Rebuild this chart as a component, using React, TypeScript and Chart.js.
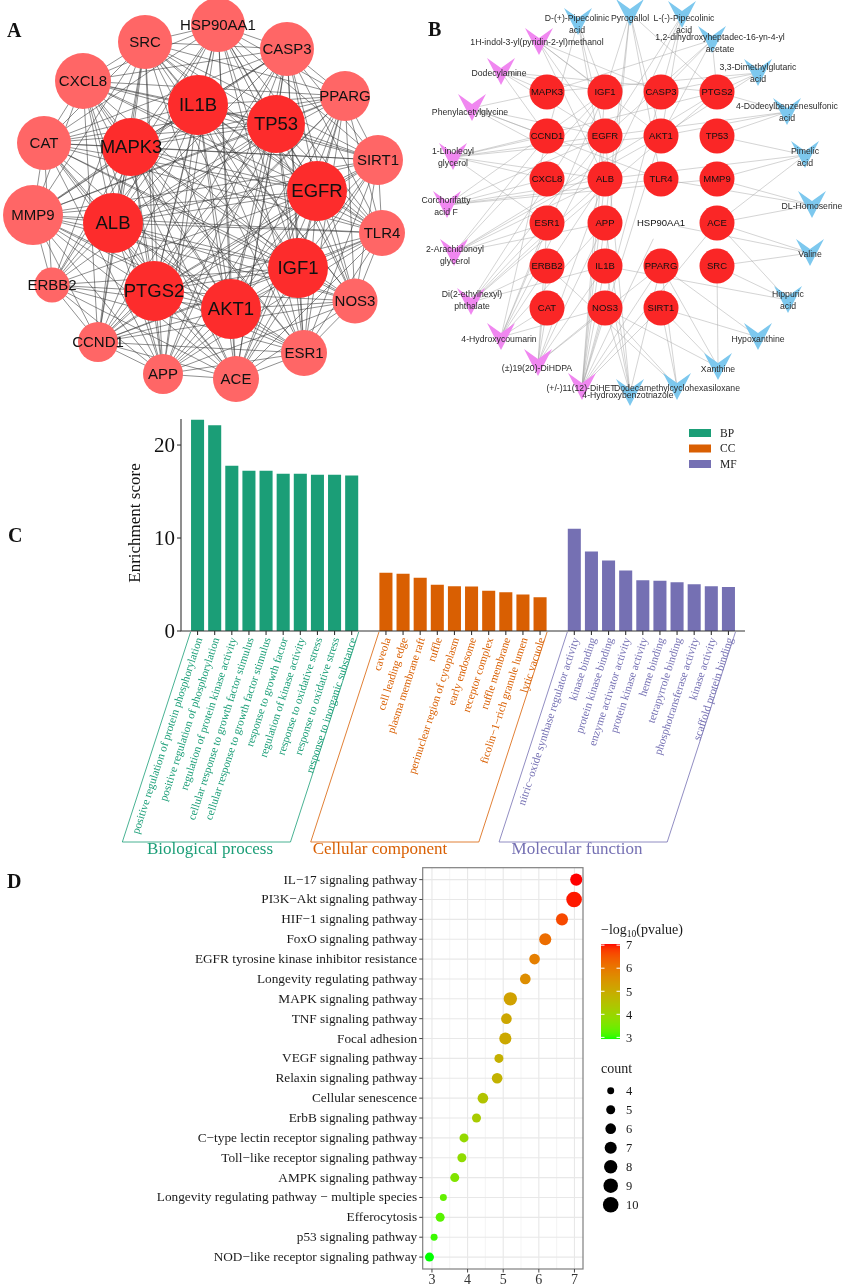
import React, { useEffect, useRef } from 'react';
import { Chart, registerables } from 'chart.js';

Chart.register(...registerables);

const SERIF = '"Liberation Serif", "Times New Roman", Times, serif';
const SANS = '"Liberation Sans", Arial, Helvetica, sans-serif';

/* ================= Panel A : PPI network ================= */
const A_GENES = ['SRC', 'HSP90AA1', 'CASP3', 'CXCL8', 'PPARG', 'IL1B', 'TP53', 'CAT', 'MAPK3', 'SIRT1', 'EGFR', 'MMP9', 'ALB', 'TLR4', 'IGF1', 'ERBB2', 'PTGS2', 'AKT1', 'NOS3', 'CCND1', 'APP', 'ACE', 'ESR1'];
const A_POS_X = [145, 218, 287, 83, 345, 198, 276, 44, 131, 378, 317, 33, 113, 382, 298, 52, 154, 231, 355, 98, 163, 236, 304];
const A_POS_Y = [42, 25, 49, 81, 96, 105, 124, 143, 147, 160, 191, 215, 223, 233, 268, 285, 291, 309, 301, 342, 374, 379, 353];
const A_RADIUS = [27, 27, 27, 28, 25, 30, 29, 27, 29, 25, 30, 30, 30, 23, 30, 17.5, 30, 30, 22.5, 20, 20, 23, 23];
const A_HUBS = ['IL1B', 'TP53', 'MAPK3', 'EGFR', 'ALB', 'IGF1', 'PTGS2', 'AKT1'];
const A_OUTER_LINKS: [string, string[]][] = [
  ['SRC', ['HSP90AA1', 'CASP3', 'CXCL8', 'CAT', 'MMP9', 'ERBB2', 'CCND1', 'ESR1', 'PPARG', 'SIRT1', 'TLR4', 'NOS3', 'APP']],
  ['HSP90AA1', ['CASP3', 'PPARG', 'CXCL8', 'CAT', 'ESR1', 'ERBB2', 'SIRT1', 'NOS3', 'APP', 'ACE', 'TLR4']],
  ['CASP3', ['PPARG', 'SIRT1', 'CXCL8', 'CAT', 'MMP9', 'CCND1', 'APP', 'ACE', 'ESR1', 'TLR4', 'NOS3']],
  ['CXCL8', ['CAT', 'MMP9', 'PPARG', 'TLR4', 'CCND1', 'APP', 'ACE', 'ESR1', 'SIRT1']],
  ['PPARG', ['SIRT1', 'TLR4', 'CAT', 'MMP9', 'ESR1', 'NOS3', 'ACE', 'APP', 'CCND1']],
  ['CAT', ['MMP9', 'ERBB2', 'SIRT1', 'NOS3', 'TLR4', 'APP', 'ACE']],
  ['SIRT1', ['TLR4', 'NOS3', 'MMP9', 'ESR1', 'ACE', 'CCND1']],
  ['MMP9', ['ERBB2', 'CCND1', 'APP', 'TLR4', 'ACE', 'ESR1', 'NOS3']],
  ['TLR4', ['NOS3', 'ESR1', 'ACE', 'APP', 'CCND1']],
  ['ERBB2', ['CCND1', 'APP', 'ESR1', 'ACE']],
  ['NOS3', ['ESR1', 'ACE', 'APP', 'CCND1']],
  ['CCND1', ['APP', 'ACE', 'ESR1']],
  ['APP', ['ACE', 'ESR1']],
  ['ACE', ['ESR1']],
];

/* ================= Panel B : compound-target network ================= */
const B_TARGETS = ['MAPK3', 'IGF1', 'CASP3', 'PTGS2', 'CCND1', 'EGFR', 'AKT1', 'TP53', 'CXCL8', 'ALB', 'TLR4', 'MMP9', 'ESR1', 'APP', 'HSP90AA1', 'ACE', 'ERBB2', 'IL1B', 'PPARG', 'SRC', 'CAT', 'NOS3', 'SIRT1'];
const B_TX = [547, 605, 661, 717, 547, 605, 661, 717, 547, 605, 661, 717, 547, 605, 661, 717, 547, 605, 661, 717, 547, 605, 661];
const B_TY = [92, 92, 92, 92, 136, 136, 136, 136, 179, 179, 179, 179, 223, 223, 223, 223, 266, 266, 266, 266, 308, 308, 308];

const B_PINK = ['1H-indol-3-yl(pyridin-2-yl)methanol', 'Dodecylamine', 'Phenylacetylglycine', '1-Linoleoyl\nglycerol', 'Corchorifatty\nacid F', '2-Arachidonoyl\nglycerol', 'Di(2-ethylhexyl)\nphthalate', '4-Hydroxycoumarin', '(±)19(20)-DiHDPA', '(+/-)11(12)-DiHET'];
const B_PINK_X = [539, 501, 472, 453, 447, 454, 471, 501, 538, 582];
const B_PINK_Y = [42, 72, 108, 157, 205, 253, 302, 337, 363, 387];
const B_PINK_LX = [537, 499, 470, 453, 446, 455, 472, 499, 537, 581];
const B_PINK_LY = [43, 74, 113, 158, 206.5, 255.5, 301, 340, 369, 389];
const B_PINK_LINKS = [
  ['IGF1', 'EGFR', 'ALB', 'AKT1', 'CASP3'],
  ['MAPK3', 'IGF1', 'PTGS2', 'CCND1', 'EGFR'],
  ['MAPK3', 'CCND1', 'ALB', 'EGFR', 'TLR4'],
  ['CCND1', 'EGFR', 'AKT1', 'PTGS2', 'CXCL8', 'ALB', 'ESR1'],
  ['CXCL8', 'ALB', 'TLR4', 'MMP9', 'EGFR', 'IGF1'],
  ['ESR1', 'ALB', 'IGF1', 'AKT1', 'PTGS2', 'APP', 'CCND1'],
  ['ERBB2', 'IL1B', 'ESR1', 'ALB', 'EGFR', 'IGF1', 'PTGS2'],
  ['CAT', 'NOS3', 'ESR1', 'APP', 'ALB', 'IGF1', 'EGFR', 'CCND1'],
  ['CAT', 'ERBB2', 'ESR1', 'NOS3', 'IL1B', 'PPARG', 'APP', 'ALB'],
  ['NOS3', 'IL1B', 'APP', 'ALB', 'EGFR', 'IGF1', 'AKT1', 'PPARG', 'SIRT1', 'ACE', 'HSP90AA1', 'CASP3'],
];

const B_BLUE = ['D-(+)-Pipecolinic\nacid', 'Pyrogallol', 'L-(-)-Pipecolinic\nacid', '1,2-dihydroxyheptadec-16-yn-4-yl\nacetate', '3,3-Dimethylglutaric\nacid', '4-Dodecylbenzenesulfonic\nacid', 'Pimelic\nacid', 'DL-Homoserine', 'Valine', 'Hippuric\nacid', 'Hypoxanthine', 'Xanthine', 'Dodecamethylcyclohexasiloxane', '4-Hydroxybenzotriazole'];
const B_BLUE_X = [578, 630, 682, 712, 758, 787, 805, 812, 810, 788, 758, 718, 677, 630];
const B_BLUE_Y = [22, 13, 15, 40, 73, 112, 155, 205, 253, 300, 337, 367, 387, 393];
const B_BLUE_LX = [577, 630, 684, 720, 758, 787, 805, 812, 810, 788, 758, 718, 677, 628];
const B_BLUE_LY = [25, 19, 25, 44, 73.5, 113, 158, 207, 255, 301, 340, 370, 389, 396];
const B_BLUE_LINKS = [
  ['IGF1', 'EGFR', 'ALB', 'CCND1'],
  ['IGF1', 'AKT1', 'TLR4', 'IL1B', 'APP', 'PTGS2'],
  ['CASP3', 'AKT1', 'ALB', 'EGFR'],
  ['PTGS2', 'CASP3', 'AKT1', 'EGFR', 'MAPK3'],
  ['PTGS2', 'AKT1', 'CASP3', 'MAPK3'],
  ['PTGS2', 'TP53', 'AKT1', 'EGFR'],
  ['MMP9', 'TP53', 'ACE', 'ALB'],
  ['MMP9', 'ACE', 'TLR4'],
  ['ACE', 'SRC', 'HSP90AA1'],
  ['SRC', 'ACE', 'IL1B'],
  ['SIRT1', 'PPARG'],
  ['SIRT1', 'NOS3', 'PPARG', 'SRC'],
  ['SIRT1', 'NOS3', 'PPARG', 'ERBB2'],
  ['NOS3', 'IL1B', 'APP', 'EGFR', 'PPARG'],
];

/* ================= Panel C : GO enrichment ================= */
const BP_TERMS = ['positive regulation of protein phosphorylation', 'positive regulation of phosphorylation', 'regulation of protein kinase activity', 'cellular response to growth factor stimulus', 'cellular response to growth factor stimulus', 'response to growth factor', 'regulation of kinase activity', 'response to oxidative stress', 'response to oxidative stress', 'response to inorganic substance'];
const BP_SCORES = [22.76, 22.19, 17.81, 17.28, 17.28, 16.95, 16.95, 16.85, 16.85, 16.77];
const CC_TERMS = ['caveola', 'cell leading edge', 'plasma membrane raft', 'ruffle', 'perinuclear region of cytoplasm', 'early endosome', 'receptor complex', 'ruffle membrane', 'ficolin−1−rich granule lumen', 'lytic vacuole'];
const CC_SCORES = [6.31, 6.2, 5.77, 5.02, 4.87, 4.84, 4.37, 4.23, 3.98, 3.69];
const MF_TERMS = ['nitric−oxide synthase regulator activity', 'kinase binding', 'protein kinase binding', 'enzyme activator activity', 'protein kinase activity', 'heme binding', 'tetrapyrrole binding', 'phosphotransferase activity', 'kinase activity', 'scaffold protein binding'];
const MF_SCORES = [11.04, 8.6, 7.63, 6.56, 5.52, 5.45, 5.3, 5.09, 4.87, 4.77];
const GO_GROUPS = ['BP', 'CC', 'MF'];
const GO_GROUP_TITLES = ['Biological process', 'Cellular component', 'Molecular function'];
const GO_COLORS = ['#1B9E77', '#D95F02', '#7570B3'];
const C_Y_TICKS = [0, 10, 20];

/* ================= Panel D : KEGG bubble ================= */
const KEGG_PATHWAYS = ['IL−17 signaling pathway', 'PI3K−Akt signaling pathway', 'HIF−1 signaling pathway', 'FoxO signaling pathway', 'EGFR tyrosine kinase inhibitor resistance', 'Longevity regulating pathway', 'MAPK signaling pathway', 'TNF signaling pathway', 'Focal adhesion', 'VEGF signaling pathway', 'Relaxin signaling pathway', 'Cellular senescence', 'ErbB signaling pathway', 'C−type lectin receptor signaling pathway', 'Toll−like receptor signaling pathway', 'AMPK signaling pathway', 'Longevity regulating pathway − multiple species', 'Efferocytosis', 'p53 signaling pathway', 'NOD−like receptor signaling pathway'];
const KEGG_NEGLOG10P = [7.05, 6.99, 6.65, 6.18, 5.88, 5.62, 5.2, 5.09, 5.06, 4.88, 4.83, 4.43, 4.25, 3.9, 3.84, 3.64, 3.32, 3.23, 3.06, 2.93];
const KEGG_COUNT = [7, 10, 7, 7, 6, 6, 8, 6, 7, 5, 6, 6, 5, 5, 5, 5, 4, 5, 4, 5];
const D_X_TICKS = [3, 4, 5, 6, 7];
const D_COLOR_TICKS = [3, 4, 5, 6, 7];
const D_COUNT_LEGEND = [4, 5, 6, 7, 8, 9, 10];

/* ================= helpers ================= */
function srgbToLin(c: number) { c /= 255; return c <= 0.04045 ? c / 12.92 : Math.pow((c + 0.055) / 1.055, 2.4); }
function linToSrgb(c: number) { const v = c <= 0.0031308 ? 12.92 * c : 1.055 * Math.pow(c, 1 / 2.4) - 0.055; return Math.round(Math.max(0, Math.min(1, v)) * 255); }
function rgbToLab(rgb: number[]) {
  const R = srgbToLin(rgb[0]), G = srgbToLin(rgb[1]), B = srgbToLin(rgb[2]);
  const X = (0.4124 * R + 0.3576 * G + 0.1805 * B) / 0.95047;
  const Y = 0.2126 * R + 0.7152 * G + 0.0722 * B;
  const Z = (0.0193 * R + 0.1192 * G + 0.9505 * B) / 1.08883;
  const f = (t: number) => (t > 0.008856 ? Math.cbrt(t) : 7.787 * t + 16 / 116);
  return [116 * f(Y) - 16, 500 * (f(X) - f(Y)), 200 * (f(Y) - f(Z))];
}
function labToRgb(lab: number[]) {
  const fy = (lab[0] + 16) / 116, fx = fy + lab[1] / 500, fz = fy - lab[2] / 200;
  const inv = (t: number) => (t * t * t > 0.008856 ? t * t * t : (t - 16 / 116) / 7.787);
  const X = inv(fx) * 0.95047, Y = inv(fy), Z = inv(fz) * 1.08883;
  const R = 3.2406 * X - 1.5372 * Y - 0.4986 * Z;
  const G = -0.9689 * X + 1.8758 * Y + 0.0415 * Z;
  const B = 0.0557 * X - 0.204 * Y + 1.057 * Z;
  return `rgb(${linToSrgb(R)},${linToSrgb(G)},${linToSrgb(B)})`;
}
const LAB_LOW = rgbToLab([0, 255, 0]);
const LAB_HIGH = rgbToLab([255, 0, 0]);
const P_MIN = Math.min(...KEGG_NEGLOG10P);
const P_MAX = Math.max(...KEGG_NEGLOG10P);
function pColor(v: number) {
  const t = Math.max(0, Math.min(1, (v - P_MIN) / (P_MAX - P_MIN)));
  return labToRgb([0, 1, 2].map((k) => LAB_LOW[k] + (LAB_HIGH[k] - LAB_LOW[k]) * t));
}
function countRadius(c: number) {
  return 2.85 * Math.sqrt(c - 2.5);
}
function makeVee(color: string) {
  const c = document.createElement('canvas');
  c.width = 28; c.height = 28;
  const g = c.getContext('2d')!;
  g.fillStyle = color;
  g.beginPath();
  g.moveTo(0, 0); g.lineTo(14, 10); g.lineTo(28, 0); g.lineTo(14, 27);
  g.closePath(); g.fill();
  return c;
}
function drawLines(ctx: CanvasRenderingContext2D, text: string, x: number, y: number, lh: number) {
  const lines = text.split('\n');
  const y0 = y - ((lines.length - 1) * lh) / 2;
  lines.forEach((l, i) => ctx.fillText(l, x, y0 + i * lh));
}

const baseOpts: any = {
  responsive: false,
  animation: false,
  events: [],
  plugins: { legend: { display: false }, tooltip: { enabled: false } },
};

/* ================= configs ================= */
function configA(): any {
  const idx = (n: string) => A_GENES.indexOf(n);
  const edges: [number, number][] = [];
  A_HUBS.forEach((h, k) => {
    A_GENES.forEach((g) => {
      if (g === h) return;
      const hk = A_HUBS.indexOf(g);
      if (hk >= 0 && hk < k) return;
      edges.push([idx(h), idx(g)]);
    });
  });
  A_OUTER_LINKS.forEach(([a, list]) => list.forEach((b) => edges.push([idx(a), idx(b)])));
  const plugin = {
    id: 'netA',
    beforeDatasetsDraw(chart: any) {
      const { ctx, scales: { x, y } } = chart;
      ctx.save();
      ctx.strokeStyle = 'rgba(55,55,55,0.8)';
      ctx.lineWidth = 0.7;
      edges.forEach(([i, j]) => {
        ctx.beginPath();
        ctx.moveTo(x.getPixelForValue(A_POS_X[i]), y.getPixelForValue(A_POS_Y[i]));
        ctx.lineTo(x.getPixelForValue(A_POS_X[j]), y.getPixelForValue(A_POS_Y[j]));
        ctx.stroke();
      });
      ctx.restore();
    },
    afterDatasetsDraw(chart: any) {
      const { ctx, scales: { x, y } } = chart;
      ctx.save();
      ctx.fillStyle = '#111';
      ctx.textAlign = 'center';
      ctx.textBaseline = 'middle';
      A_GENES.forEach((g, i) => {
        ctx.font = `${A_HUBS.includes(g) ? 18.5 : 15}px ${SANS}`;
        ctx.fillText(g, x.getPixelForValue(A_POS_X[i]), y.getPixelForValue(A_POS_Y[i]) + 1);
      });
      ctx.restore();
    },
  };
  return {
    type: 'scatter',
    data: {
      datasets: [{
        data: A_GENES.map((g, i) => ({ x: A_POS_X[i], y: A_POS_Y[i] })),
        pointRadius: A_RADIUS,
        pointHoverRadius: A_RADIUS,
        backgroundColor: A_GENES.map((g) => (A_HUBS.includes(g) ? 'rgb(253,44,44)' : 'rgb(255,102,102)')),
        borderWidth: 0,
        clip: false,
      }],
    },
    options: {
      ...baseOpts,
      layout: { padding: 0, autoPadding: false },
      scales: {
        x: { type: 'linear', display: false, min: 0, max: 415 },
        y: { type: 'linear', display: false, min: 0, max: 410, reverse: true },
      },
    },
    plugins: [plugin],
  };
}

function configB(): any {
  const tIdx = (n: string) => B_TARGETS.indexOf(n);
  const plugin = {
    id: 'netB',
    beforeDatasetsDraw(chart: any) {
      const { ctx, scales: { x, y } } = chart;
      ctx.save();
      ctx.strokeStyle = 'rgba(160,160,160,0.7)';
      ctx.lineWidth = 0.65;
      const link = (mx: number, my: number, list: string[]) => list.forEach((t) => {
        const k = tIdx(t);
        ctx.beginPath();
        ctx.moveTo(x.getPixelForValue(mx), y.getPixelForValue(my));
        ctx.lineTo(x.getPixelForValue(B_TX[k]), y.getPixelForValue(B_TY[k]));
        ctx.stroke();
      });
      B_PINK_LINKS.forEach((l, i) => link(B_PINK_X[i], B_PINK_Y[i], l));
      B_BLUE_LINKS.forEach((l, i) => link(B_BLUE_X[i], B_BLUE_Y[i], l));
      ctx.restore();
    },
    afterDatasetsDraw(chart: any) {
      const { ctx, scales: { x, y } } = chart;
      ctx.save();
      ctx.textAlign = 'center';
      ctx.textBaseline = 'middle';
      ctx.fillStyle = '#111';
      ctx.font = `9.5px ${SANS}`;
      B_TARGETS.forEach((t, i) => ctx.fillText(t, x.getPixelForValue(B_TX[i]), y.getPixelForValue(B_TY[i]) + 0.5));
      ctx.fillStyle = '#2a2a2a';
      ctx.font = `8.7px ${SANS}`;
      B_PINK.forEach((m, i) => drawLines(ctx, m, x.getPixelForValue(B_PINK_LX[i]), y.getPixelForValue(B_PINK_LY[i]), 12));
      B_BLUE.forEach((m, i) => drawLines(ctx, m, x.getPixelForValue(B_BLUE_LX[i]), y.getPixelForValue(B_BLUE_LY[i]), 12));
      ctx.restore();
    },
  };
  const pink = makeVee('rgb(240,135,240)');
  const blue = makeVee('rgb(125,200,238)');
  return {
    type: 'scatter',
    data: {
      datasets: [
        {
          data: B_TARGETS.map((t, i) => ({ x: B_TX[i], y: B_TY[i] })),
          pointRadius: 17.5,
          pointHoverRadius: 17.5,
          backgroundColor: B_TARGETS.map((t) => (t === 'HSP90AA1' ? '#ffffff' : 'rgb(250,38,38)')),
          borderWidth: 0,
          clip: false,
        },
        {
          data: B_PINK.map((m, i) => ({ x: B_PINK_X[i], y: B_PINK_Y[i] })),
          pointStyle: pink,
          pointRadius: 14,
          clip: false,
        },
        {
          data: B_BLUE.map((m, i) => ({ x: B_BLUE_X[i], y: B_BLUE_Y[i] })),
          pointStyle: blue,
          pointRadius: 14,
          clip: false,
        },
      ],
    },
    options: {
      ...baseOpts,
      layout: { padding: 0, autoPadding: false },
      scales: {
        x: { type: 'linear', display: false, min: 415, max: 844 },
        y: { type: 'linear', display: false, min: 0, max: 410, reverse: true },
      },
    },
    plugins: [plugin],
  };
}

function configC(): any {
  const groups = [BP_TERMS, CC_TERMS, MF_TERMS];
  const scores = [BP_SCORES, CC_SCORES, MF_SCORES];
  const labels: string[] = [];
  const groupOf: number[] = [];
  groups.forEach((g, k) => {
    if (k > 0) { labels.push(''); groupOf.push(-1); }
    g.forEach((t) => { labels.push(t); groupOf.push(k); });
  });
  const datasets = GO_GROUPS.map((name, k) => {
    const data: (number | null)[] = [];
    let j = 0;
    groupOf.forEach((gk) => data.push(gk === k ? scores[k][j++] : null));
    return {
      label: name,
      data,
      backgroundColor: GO_COLORS[k],
      borderColor: 'rgba(255,255,255,0.35)',
      borderWidth: 0.8,
      barThickness: 14,
      grouped: false,
    };
  });
  const ANG = (72 * Math.PI) / 180;
  const TITLE_X = [210, 380, 577];
  const plugin = {
    id: 'goDecor',
    afterDraw(chart: any) {
      const { ctx, scales: { x, y } } = chart;
      const y0 = y.getPixelForValue(0);
      const left = x.left - 8;
      const right = x.right + 8;
      ctx.save();
      ctx.strokeStyle = '#333';
      ctx.lineWidth = 1.1;
      ctx.beginPath();
      ctx.moveTo(left, y.getPixelForValue(y.max));
      ctx.lineTo(left, y0);
      ctx.lineTo(right, y0);
      ctx.stroke();
      // y ticks
      ctx.fillStyle = '#111';
      ctx.font = `21px ${SERIF}`;
      ctx.textAlign = 'right';
      ctx.textBaseline = 'middle';
      C_Y_TICKS.forEach((v) => {
        const py = y.getPixelForValue(v);
        ctx.beginPath(); ctx.moveTo(left - 4, py); ctx.lineTo(left, py); ctx.stroke();
        ctx.fillText(String(v), left - 6, py + 1);
      });
      // y title
      ctx.save();
      ctx.translate(136, (y.getPixelForValue(y.max) + y0) / 2 - 2);
      ctx.rotate(-Math.PI / 2);
      ctx.textAlign = 'center';
      ctx.font = `17px ${SERIF}`;
      ctx.fillText('Enrichment score', 0, 0);
      ctx.restore();
      // x ticks + labels
      ctx.font = `11.2px ${SERIF}`;
      labels.forEach((lab, i) => {
        if (!lab) return;
        const px = x.getPixelForValue(i);
        ctx.strokeStyle = '#333';
        ctx.beginPath(); ctx.moveTo(px, y0); ctx.lineTo(px, y0 + 4); ctx.stroke();
        ctx.save();
        ctx.fillStyle = GO_COLORS[groupOf[i]];
        ctx.translate(px + 2, y0 + 7);
        ctx.rotate(-ANG);
        ctx.textAlign = 'right';
        ctx.textBaseline = 'middle';
        ctx.fillText(lab, 0, 0);
        ctx.restore();
      });
      // group brackets
      const bottom = 437;
      const dx = (bottom - (y0 + 1)) / Math.tan(ANG);
      GO_GROUPS.forEach((g, k) => {
        const idxs = groupOf.map((gk, i) => (gk === k ? i : -1)).filter((i) => i >= 0);
        const xl = x.getPixelForValue(idxs[0]) - 7;
        const xr = x.getPixelForValue(idxs[idxs.length - 1]) + 7;
        ctx.strokeStyle = GO_COLORS[k];
        ctx.lineWidth = 0.8;
        ctx.beginPath();
        ctx.moveTo(xl, y0 + 1);
        ctx.lineTo(xl - dx, bottom);
        ctx.lineTo(xr - dx, bottom);
        ctx.lineTo(xr, y0 + 1);
        ctx.stroke();
        ctx.fillStyle = GO_COLORS[k];
        ctx.font = `17px ${SERIF}`;
        ctx.textAlign = 'center';
        ctx.textBaseline = 'middle';
        ctx.fillText(GO_GROUP_TITLES[k], TITLE_X[k], bottom + 8);
      });
      // legend
      GO_GROUPS.forEach((g, k) => {
        const ly = 28 + k * 15.5;
        ctx.fillStyle = GO_COLORS[k];
        ctx.fillRect(689, ly - 4, 22, 8);
        ctx.fillStyle = '#222';
        ctx.font = `11.5px ${SERIF}`;
        ctx.textAlign = 'left';
        ctx.textBaseline = 'middle';
        ctx.fillText(g, 720, ly + 0.5);
      });
      ctx.restore();
    },
  };
  return {
    type: 'bar',
    data: { labels, datasets },
    options: {
      ...baseOpts,
      layout: { padding: { left: 189, right: 107, top: 14, bottom: 229 }, autoPadding: false },
      scales: {
        x: { type: 'category', display: false, offset: true },
        y: { type: 'linear', display: false, min: 0, max: 22.8 },
      },
    },
    plugins: [plugin],
  };
}

function configD(): any {
  const plugin = {
    id: 'keggDecor',
    beforeDatasetsDraw(chart: any) {
      const { ctx, chartArea: a, scales: { x, y } } = chart;
      ctx.save();
      ctx.fillStyle = '#fff';
      ctx.fillRect(a.left, a.top, a.width, a.height);
      ctx.strokeStyle = '#F4F4F4';
      ctx.lineWidth = 0.6;
      D_X_TICKS.forEach((v) => {
        [v - 0.5, v + 0.5].forEach((m) => {
          if (m <= x.min || m >= x.max) return;
          const px = x.getPixelForValue(m);
          ctx.beginPath(); ctx.moveTo(px, a.top); ctx.lineTo(px, a.bottom); ctx.stroke();
        });
      });
      ctx.strokeStyle = '#E8E8E8';
      ctx.lineWidth = 1.1;
      D_X_TICKS.forEach((v) => {
        const px = x.getPixelForValue(v);
        ctx.beginPath(); ctx.moveTo(px, a.top); ctx.lineTo(px, a.bottom); ctx.stroke();
      });
      KEGG_PATHWAYS.forEach((p, i) => {
        const py = y.getPixelForValue(i + 1);
        ctx.beginPath(); ctx.moveTo(a.left, py); ctx.lineTo(a.right, py); ctx.stroke();
      });
      ctx.restore();
    },
    afterDatasetsDraw(chart: any) {
      const { ctx, chartArea: a, scales: { x, y } } = chart;
      ctx.save();
      ctx.strokeStyle = '#7f7f7f';
      ctx.lineWidth = 1.2;
      ctx.strokeRect(a.left, a.top, a.width, a.height);
      ctx.strokeStyle = '#444';
      ctx.lineWidth = 1;
      ctx.fillStyle = '#1a1a1a';
      ctx.font = `13.3px ${SERIF}`;
      ctx.textAlign = 'right';
      ctx.textBaseline = 'middle';
      KEGG_PATHWAYS.forEach((p, i) => {
        const py = y.getPixelForValue(i + 1);
        ctx.beginPath(); ctx.moveTo(a.left - 3.5, py); ctx.lineTo(a.left, py); ctx.stroke();
        ctx.fillText(p, a.left - 5.5, py + 0.5);
      });
      ctx.textAlign = 'center';
      ctx.font = `14px ${SERIF}`;
      ctx.fillStyle = '#333';
      D_X_TICKS.forEach((v) => {
        const px = x.getPixelForValue(v);
        ctx.beginPath(); ctx.moveTo(px, a.bottom); ctx.lineTo(px, a.bottom + 3.5); ctx.stroke();
        ctx.fillText(String(v), px, a.bottom + 11);
      });
      // colour legend
      const bx = 601, bw = 19, bTop = 84, bBot = 179;
      ctx.fillStyle = '#1a1a1a';
      ctx.textAlign = 'left';
      ctx.font = `14px ${SERIF}`;
      let tx = 601;
      ctx.fillText('−log', tx, 70);
      tx += ctx.measureText('−log').width;
      ctx.font = `9.5px ${SERIF}`;
      ctx.fillText('10', tx, 74);
      tx += ctx.measureText('10').width;
      ctx.font = `14px ${SERIF}`;
      ctx.fillText('(pvalue)', tx, 70);
      for (let py = bTop; py < bBot; py += 1) {
        const v = P_MAX - ((py + 0.5 - bTop) / (bBot - bTop)) * (P_MAX - P_MIN);
        ctx.fillStyle = pColor(v);
        ctx.fillRect(bx, py, bw, 1.05);
      }
      ctx.strokeStyle = '#fff';
      ctx.lineWidth = 1;
      ctx.font = `12.5px ${SERIF}`;
      ctx.fillStyle = '#1a1a1a';
      D_COLOR_TICKS.forEach((v) => {
        const py = bBot - ((v - P_MIN) / (P_MAX - P_MIN)) * (bBot - bTop);
        ctx.beginPath(); ctx.moveTo(bx, py); ctx.lineTo(bx + 3.5, py); ctx.stroke();
        ctx.beginPath(); ctx.moveTo(bx + bw - 3.5, py); ctx.lineTo(bx + bw, py); ctx.stroke();
        ctx.fillText(String(v), 626, py + 1);
      });
      // size legend
      ctx.font = `14px ${SERIF}`;
      ctx.fillText('count', 601, 209);
      ctx.font = `12.5px ${SERIF}`;
      D_COUNT_LEGEND.forEach((c, k) => {
        const py = 230.7 + k * 19;
        ctx.fillStyle = '#000';
        ctx.beginPath(); ctx.arc(610.7, py, countRadius(c), 0, Math.PI * 2); ctx.fill();
        ctx.fillStyle = '#1a1a1a';
        ctx.fillText(String(c), 626, py + 1);
      });
      ctx.restore();
    },
  };
  return {
    type: 'bubble',
    data: {
      datasets: [{
        data: KEGG_PATHWAYS.map((p, i) => ({ x: KEGG_NEGLOG10P[i], y: i + 1, r: countRadius(KEGG_COUNT[i]) })),
        backgroundColor: KEGG_NEGLOG10P.map((v) => pColor(v)),
        borderWidth: 0,
        clip: false,
      }],
    },
    options: {
      ...baseOpts,
      layout: { padding: { left: 422.7, right: 261, top: 7.7, bottom: 17 }, autoPadding: false },
      scales: {
        x: { type: 'linear', display: false, min: 2.74, max: 7.24 },
        y: { type: 'linear', display: false, min: 0.4, max: 20.6, reverse: true },
      },
    },
    plugins: [plugin],
  };
}

const letterStyle = (left: number, top: number): React.CSSProperties => ({
  position: 'absolute', left, top, fontFamily: SERIF, fontWeight: 'bold', fontSize: 20, lineHeight: '22px', color: '#111',
});

export default function App() {
  const refA = useRef<HTMLCanvasElement>(null);
  const refB = useRef<HTMLCanvasElement>(null);
  const refC = useRef<HTMLCanvasElement>(null);
  const refD = useRef<HTMLCanvasElement>(null);
  useEffect(() => {
    const charts = [
      new Chart(refA.current!, configA()),
      new Chart(refB.current!, configB()),
      new Chart(refC.current!, configC()),
      new Chart(refD.current!, configD()),
    ];
    return () => charts.forEach((c) => c.destroy());
  }, []);
  return (
    <div style={{ position: 'absolute', left: 0, top: 0, width: 844, height: 1286, background: '#fff', overflow: 'hidden' }}>
      <canvas ref={refA} width={415} height={410} style={{ position: 'absolute', left: 0, top: 0 }} />
      <canvas ref={refB} width={429} height={410} style={{ position: 'absolute', left: 415, top: 0 }} />
      <canvas ref={refC} width={844} height={455} style={{ position: 'absolute', left: 0, top: 405 }} />
      <canvas ref={refD} width={844} height={426} style={{ position: 'absolute', left: 0, top: 860 }} />
      <div style={letterStyle(7, 19)}>A</div>
      <div style={letterStyle(428, 18)}>B</div>
      <div style={letterStyle(8, 524)}>C</div>
      <div style={letterStyle(7, 870)}>D</div>
    </div>
  );
}
